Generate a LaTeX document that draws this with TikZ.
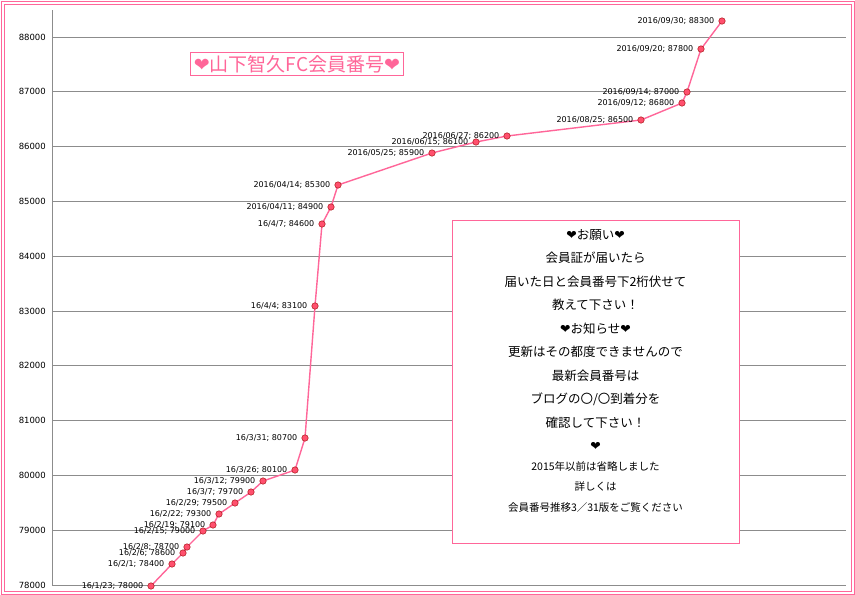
\documentclass[tikz,border=0pt]{standalone}
\usepackage{fontspec}
\setmainfont{DejaVu Sans}
\newfontfamily\cjk{Noto Sans CJK JP}
\newfontfamily\heart{DejaVu Sans}
\usetikzlibrary{positioning}
\definecolor{linepink}{RGB}{255,102,153}
\definecolor{dotred}{RGB}{255,80,110}
\tikzset{
  grid line/.style={draw=gray!90, line width=0.8pt},
  tick label/.style={font=\fontsize{8.5}{10}\selectfont, anchor=east, inner sep=1pt},
  pt label/.style={font=\fontsize{8}{9}\selectfont, anchor=east, inner sep=1pt},
  dot/.style={circle, fill=dotred, draw=red!60!black, line width=0.4pt, minimum size=6.5pt, inner sep=0pt}
}
\newcommand{\hrt}{{\heart\char"2764}}
\begin{document}
\begin{tikzpicture}[x=1pt, y=-1pt]
	\useasboundingbox (0,0) rectangle (855,595);
	\fill[white] (0,0) rectangle (855,595);
	\draw[linepink, line width=0.8pt] (1,1) rectangle (854,594);
	\draw[linepink, line width=0.6pt] (4,4) rectangle (851,591);
	% grid
	\foreach \i in {0,...,10} {
		\pgfmathsetmacro{\yy}{585-54.8*\i}
		\pgfmathtruncatemacro{\v}{78+\i}
		\draw[grid line] (52,\yy) -- (846,\yy);
		\node[tick label] (t\i) at (47,\yy) {\v000};
	}
	\draw[grid line] (52,10) -- (52,585);
	% data
	\foreach \x/\y/\lab [count=\n] in {
		151/586/{16/1/23; 78000}, 172/564/{16/2/1; 78400}, 183/553/{16/2/6; 78600},
		187/547/{16/2/8; 78700}, 203/531/{16/2/15; 79000}, 213/525/{16/2/19; 79100},
		219/514/{16/2/22; 79300}, 235/503/{16/2/29; 79500}, 251/492/{16/3/7; 79700},
		263/481/{16/3/12; 79900}, 295/470/{16/3/26; 80100}, 305/438/{16/3/31; 80700},
		315/306/{16/4/4; 83100}, 322/224/{16/4/7; 84600}, 331/207/{2016/04/11; 84900},
		338/185/{2016/04/14; 85300}, 432/153/{2016/05/25; 85900}, 476/142/{2016/06/15; 86100},
		507/136/{2016/06/27; 86200}, 641/120/{2016/08/25; 86500}, 682/103/{2016/09/12; 86800},
		687/92/{2016/09/14; 87000}, 701/49/{2016/09/20; 87800}, 722/21/{2016/09/30; 88300}} {
		\coordinate (p\n) at (\x,\y);
		\expandafter\xdef\csname lab\n\endcsname{\lab}
	}
	\draw[linepink, line width=1.4pt] (p1) \foreach \n in {2,...,24} { -- (p\n) };
	\foreach \n in {1,...,24} {
		\node[dot] (d\n) at (p\n) {};
		\node[pt label, left=3pt of d\n] (l\n) {\csname lab\n\endcsname};
	}
	% title
	\node[draw=linepink, line width=0.8pt, text=linepink, inner sep=3pt,
	      font=\cjk\fontsize{19}{21}\selectfont] (title) at (297,64)
	      {\hrt 山下智久FC会員番号\hrt};
	% note
	\node[draw=linepink, line width=0.9pt, fill=white, minimum width=287pt, minimum height=323pt] (note) at (595.5,381.5) {};
	\node[align=center, font=\cjk\fontsize{12.5}{23.5}\selectfont, below=6pt of note.north] (notetext) {%
		\hrt お願い\hrt\\
		会員証が届いたら\\
		届いた日と会員番号下2桁伏せて\\
		教えて下さい！\\
		\hrt お知らせ\hrt\\
		更新はその都度できませんので\\
		最新会員番号は\\
		ブログの〇/〇到着分を\\
		確認して下さい！\\
		\hrt\\[-4pt]
		{\fontsize{10.5}{21}\selectfont 2015年以前は省略しました}\\[-3pt]
		{\fontsize{10.5}{21}\selectfont 詳しくは}\\[-3pt]
		{\fontsize{10.5}{21}\selectfont 会員番号推移3／31版をご覧ください}};
\end{tikzpicture}
\end{document}
